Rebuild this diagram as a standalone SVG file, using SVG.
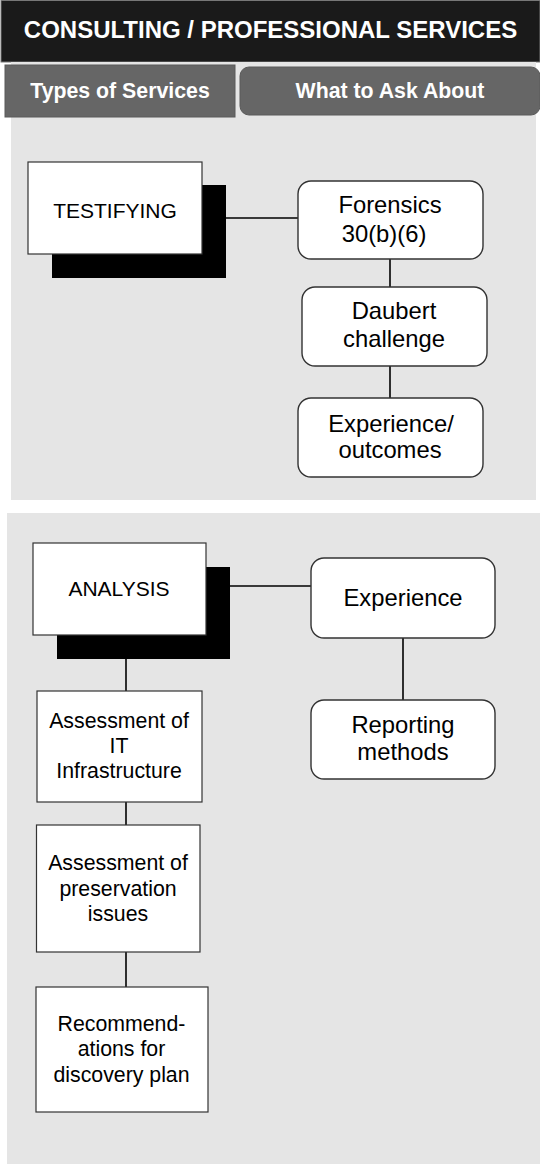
<svg xmlns="http://www.w3.org/2000/svg" width="540" height="1164" viewBox="0 0 540 1164">
<style>
text{font-family:"Liberation Sans",Arial,Helvetica,sans-serif;text-anchor:middle;fill:#000}
.title{font-size:24px;font-weight:bold;fill:#fff}
.tab{font-size:21.3px;font-weight:bold;fill:#fff}
.panel{fill:#e5e5e5}
.tabbox{fill:#666;stroke:#5a5a5a;stroke-width:1}
.main{fill:#fff;stroke:#333;stroke-width:1.2}
.shadow{fill:#000}
.rbox{fill:#fff;stroke:#333;stroke-width:1.4}
.sbox{fill:#fff;stroke:#333;stroke-width:1.2}
.t21{font-size:21px}
.t23{font-size:23.8px}
.t20{font-size:21.3px}
.conn{stroke:#000;stroke-width:1.6;fill:none}
</style>
<rect x="0" y="0" width="540" height="1164" fill="#fff"/>
<g id="header">
<rect x="1" y="0.5" width="539" height="61.5" fill="#1a1a1a" stroke="#777" stroke-width="1"/>
<text class="title" x="270.5" y="37.5">CONSULTING / PROFESSIONAL SERVICES</text>
</g>
<g id="panel-testifying">
<rect class="panel" x="11" y="62" width="525" height="438"/>
</g>
<g id="panel-analysis">
<rect class="panel" x="7" y="513" width="533" height="651"/>
</g>
<g id="tab-types">
<rect class="tabbox" x="5" y="65" width="230" height="52"/>
<text class="tab" x="120" y="97.5">Types of Services</text>
</g>
<g id="tab-ask">
<rect class="tabbox" x="240" y="67" width="300" height="48" rx="9" ry="9"/>
<text class="tab" x="390" y="97.5">What to Ask About</text>
</g>
<g id="connectors">
<line class="conn" x1="226" y1="218" x2="305" y2="218"/>
<line class="conn" x1="390" y1="259" x2="390" y2="287"/>
<line class="conn" x1="390" y1="366" x2="390" y2="398"/>
<line class="conn" x1="230" y1="586" x2="313" y2="586"/>
<line class="conn" x1="403" y1="638" x2="403" y2="700"/>
<line class="conn" x1="126" y1="659" x2="126" y2="691"/>
<line class="conn" x1="126" y1="802" x2="126" y2="825"/>
<line class="conn" x1="126" y1="952" x2="126" y2="987"/>
</g>
<g id="testifying">
<rect class="shadow" x="52" y="185" width="174" height="93"/>
<rect class="main" x="28" y="162" width="174" height="92"/>
<text class="t21" x="115" y="218">TESTIFYING</text>
</g>
<g id="forensics">
<rect class="rbox" x="298" y="181" width="185" height="78" rx="13" ry="13"/>
<text class="t23" x="390" y="213">Forensics</text>
<text class="t23" x="384" y="242">30(b)(6)</text>
</g>
<g id="daubert">
<rect class="rbox" x="302" y="287" width="185" height="79" rx="13" ry="13"/>
<text class="t23" x="394" y="319">Daubert</text>
<text class="t23" x="394" y="347">challenge</text>
</g>
<g id="experience-outcomes">
<rect class="rbox" x="298" y="398" width="185" height="79" rx="13" ry="13"/>
<text class="t23" x="391" y="432">Experience/</text>
<text class="t23" x="390" y="458">outcomes</text>
</g>
<g id="analysis">
<rect class="shadow" x="57" y="567" width="173" height="92"/>
<rect class="main" x="33" y="543" width="173" height="92"/>
<text class="t21" x="119" y="596">ANALYSIS</text>
</g>
<g id="experience">
<rect class="rbox" x="311" y="558" width="184" height="80" rx="13" ry="13"/>
<text class="t23" x="403" y="606">Experience</text>
</g>
<g id="reporting">
<rect class="rbox" x="311" y="700" width="184" height="79" rx="13" ry="13"/>
<text class="t23" x="403" y="733">Reporting</text>
<text class="t23" x="403" y="760">methods</text>
</g>
<g id="assessment-it">
<rect class="sbox" x="37" y="691" width="165" height="111"/>
<text class="t20" x="119" y="728">Assessment of</text>
<text class="t20" x="119" y="753">IT</text>
<text class="t20" x="119" y="778">Infrastructure</text>
</g>
<g id="assessment-preservation">
<rect class="sbox" x="36.5" y="825" width="163.5" height="127"/>
<text class="t20" x="118" y="870">Assessment of</text>
<text class="t20" x="118" y="896">preservation</text>
<text class="t20" x="118" y="921">issues</text>
</g>
<g id="recommendations">
<rect class="sbox" x="36" y="987" width="172" height="125"/>
<text class="t20" x="121.5" y="1031">Recommend-</text>
<text class="t20" x="121.5" y="1056">ations for</text>
<text class="t20" x="121.5" y="1082">discovery plan</text>
</g>
</svg>
